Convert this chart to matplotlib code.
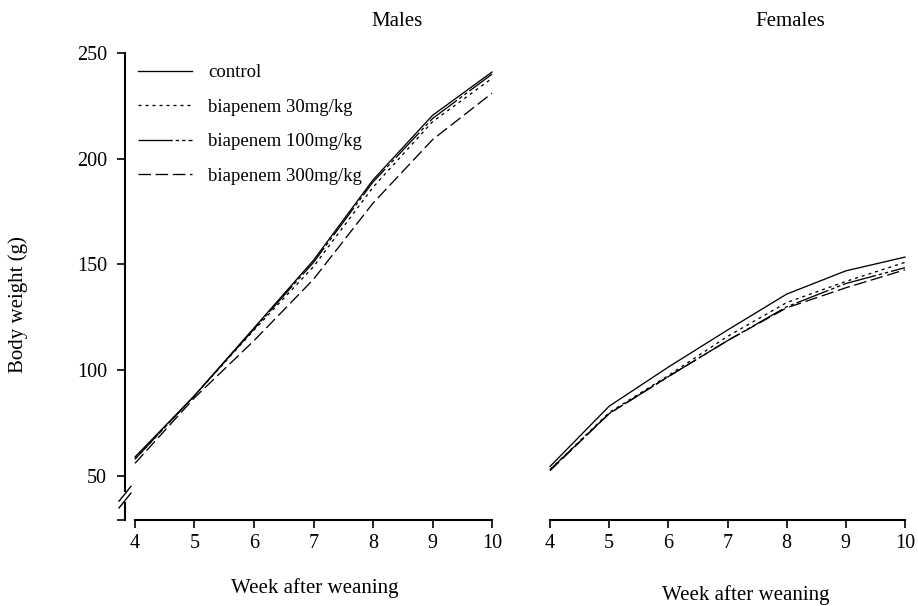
import matplotlib
matplotlib.use("Agg")
import matplotlib.pyplot as plt
from matplotlib.lines import Line2D

weeks = [4, 5, 6, 7, 8, 9, 10]
series_labels = ["control", "biapenem 30mg/kg", "biapenem 100mg/kg", "biapenem 300mg/kg"]

males_control = [59, 88, 120, 152, 190, 220.5, 241]
males_30 = [58, 88, 119, 149, 186.5, 217.5, 238]
males_100 = [58, 88, 119.5, 151, 189, 219, 240]
males_300 = [56, 87, 114, 143, 179, 209, 231]

females_control = [54.5, 83, 101.5, 119, 136, 147, 153.5]
females_30 = [53, 80, 97.5, 116, 132, 142, 151]
females_100 = [53, 79.5, 97, 114, 130, 141, 148.5]
females_300 = [52.5, 79.5, 97, 114, 129.5, 139, 147.5]

y_ticks = [50, 100, 150, 200, 250]
x_ticks = [4, 5, 6, 7, 8, 9, 10]

plt.rcParams['font.family'] = ['Liberation Serif', 'DejaVu Serif']
FS_TICK = 14.5
FS_LAB = 15
FS_LEG = 13.5

W, H = 918, 606
fig = plt.figure(figsize=(W / 100, H / 100), dpi=100)

styles = [
    dict(linestyle='-'),
    dict(linestyle=(0, (2.3, 3.0))),
    dict(linestyle=(0, (26, 2.2, 2.6, 2.2, 2.6, 2.2))),
    dict(linestyle=(0, (9.5, 3.5))),
]

ylo = 50 - 44 / 2.115
yhi = 250 + 8 / 2.115
bottom = (H - 520) / H
top = (H - 45) / H

def make_ax(left_px, right_px, x4_px, x10_px):
    ax = fig.add_axes([left_px / W, bottom, (right_px - left_px) / W, top - bottom])
    ppu = (x10_px - x4_px) / 6
    ax.set_xlim(4 - (x4_px - left_px) / ppu, 10 + (right_px - x10_px) / ppu)
    ax.set_ylim(ylo, yhi)
    ax.spines['top'].set_visible(False)
    ax.spines['right'].set_visible(False)
    ax.spines['bottom'].set_bounds(4, 10)
    ax.spines['bottom'].set_linewidth(1.5)
    ax.set_xticks(x_ticks)
    ax.set_xticklabels([str(t) for t in x_ticks], fontsize=FS_TICK)
    ax.tick_params(axis='x', direction='out', length=6, width=1.2, pad=4)
    ax.patch.set_visible(False)
    return ax

axL = make_ax(125, 500, 135, 492)
axR = make_ax(540, 915, 550, 905)

for ax, data in [(axL, [males_control, males_30, males_100, males_300]),
                 (axR, [females_control, females_30, females_100, females_300])]:
    for vals, st, lab in zip(data, styles, series_labels):
        ax.plot(weeks, vals, color='black', linewidth=0.95, label=lab, **st)

# left axis
axL.spines['left'].set_bounds(ylo, 250)
axL.spines['left'].set_linewidth(1.5)
axL.set_yticks(y_ticks + [ylo])
axL.set_yticklabels([str(t) for t in y_ticks] + [""], fontsize=FS_TICK)
axL.tick_params(axis='y', direction='out', length=6, width=1.2, pad=7)

# axis break
brk = 40
axL.plot([3.832, 3.832], [brk - 2.3, brk + 2.3], color='white', linewidth=4,
         clip_on=False, zorder=5, solid_capstyle='butt')
for off in (-1.6, 1.6):
    axL.plot([3.832 - 0.1, 3.832 + 0.1], [brk + off - 3.5, brk + off + 3.5],
             color='black', linewidth=1.0, clip_on=False, zorder=6)

# right panel: no y axis
axR.spines['left'].set_visible(False)
axR.set_yticks([])

# legend
handles = [Line2D([], [], color='black', linewidth=0.95, **st) for st in styles]
leg = axL.legend(handles, series_labels, loc='upper left',
                 bbox_to_anchor=(138 / W, (H - 64) / H), bbox_transform=fig.transFigure,
                 frameon=False, fontsize=FS_LEG, handlelength=2.9, handletextpad=0.85,
                 labelspacing=0.93, borderaxespad=0, borderpad=0)

# titles and labels
fig.text(397 / W, 1 - 22 / H, "Males", ha='center', va='center', fontsize=FS_LAB)
fig.text(790 / W, 1 - 22 / H, "Females", ha='center', va='center', fontsize=FS_LAB)
fig.text(315 / W, 1 - 593 / H, "Week after weaning", ha='center', va='baseline', fontsize=FS_LAB)
fig.text(746 / W, 1 - 600 / H, "Week after weaning", ha='center', va='baseline', fontsize=FS_LAB)
fig.text(18 / W, 1 - 305 / H, "Body weight (g)", ha='center', va='center',
         rotation=90, fontsize=FS_LAB)

fig.savefig("out.png", dpi=100)
